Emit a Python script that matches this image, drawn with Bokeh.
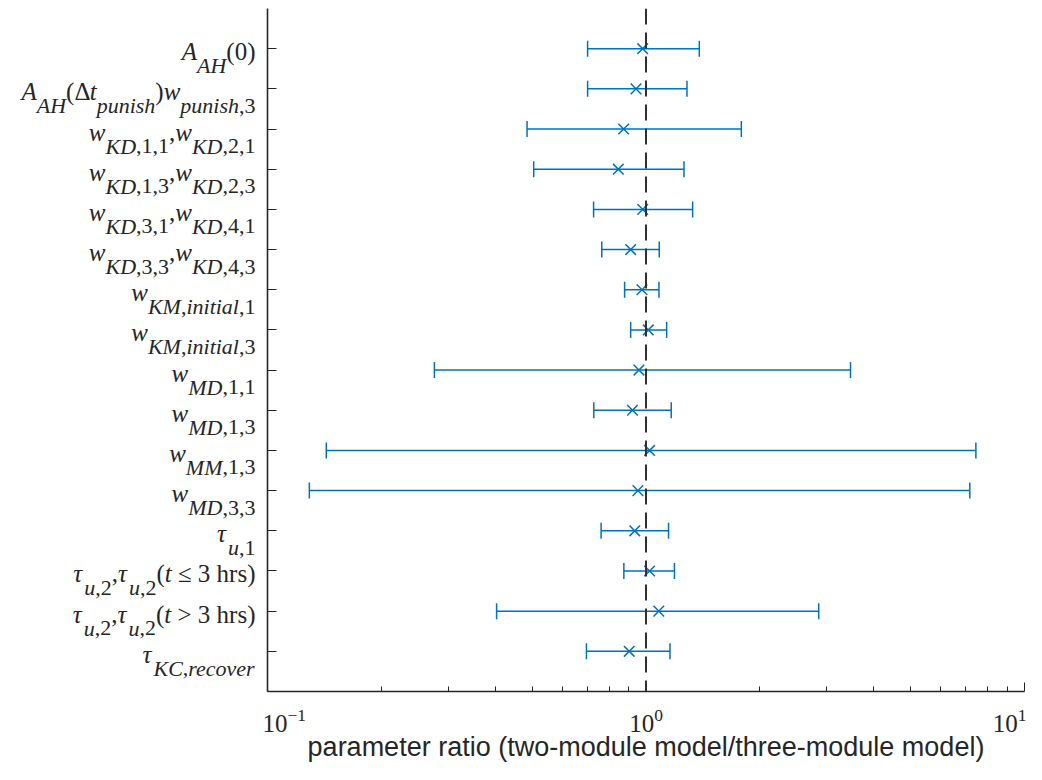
from bokeh.plotting import figure
from bokeh.layouts import row
from bokeh.models import (ColumnDataSource, Range1d, FixedTicker, LogTickFormatter,
                          Whisker, TeeHead, Span)
from bokeh.core.properties import value
from bokeh.embed import file_html
from bokeh.resources import INLINE

# ---------------- data ----------------
labels = [
    "A_{AH}(0)",
    "A_{AH}({\\Delta}t_{punish})w_{punish,3}",
    "w_{KD,1,1},w_{KD,2,1}",
    "w_{KD,1,3},w_{KD,2,3}",
    "w_{KD,3,1},w_{KD,4,1}",
    "w_{KD,3,3},w_{KD,4,3}",
    "w_{KM,initial,1}",
    "w_{KM,initial,3}",
    "w_{MD,1,1}",
    "w_{MD,1,3}",
    "w_{MM,1,3}",
    "w_{MD,3,3}",
    "{\\tau}_{u,1}",
    "{\\tau}_{u,2},{\\tau}_{u,2}(t {\\leq} 3 \\rm{hrs})",
    "{\\tau}_{u,2},{\\tau}_{u,2}(t > 3 \\rm{hrs})",
    "{\\tau}_{KC,recover}",
]
ratio = [0.980, 0.941, 0.873, 0.845, 0.980, 0.911, 0.976, 1.014,
         0.958, 0.921, 1.022, 0.952, 0.934, 1.022, 1.081, 0.903]
lower = [0.701, 0.701, 0.485, 0.505, 0.727, 0.764, 0.878, 0.911,
         0.276, 0.728, 0.143, 0.129, 0.761, 0.874, 0.403, 0.696]
upper = [1.383, 1.283, 1.786, 1.260, 1.328, 1.084, 1.082, 1.134,
         3.470, 1.166, 7.440, 7.170, 1.147, 1.189, 2.860, 1.157]
x_major = [0.1, 1, 10]
x_minor = [0.2, 0.3, 0.4, 0.5, 0.6, 0.7, 0.8, 0.9, 2, 3, 4, 5, 6, 7, 8, 9]
x_label = "parameter ratio (two-module model/three-module model)"

BLUE = "#0072BD"
AXC = "#262626"
MAIN_PX, SUB_PX = 25, 22
H = 764
TOP, BOTTOM = 8, 72
LEFT_W = 262

rows = list(range(1, len(labels) + 1))
src = ColumnDataSource(dict(y=rows, mid=ratio, lo=lower, hi=upper))

yr = Range1d(len(labels) + 1, 0)

p = figure(width=1026 - LEFT_W, height=H, x_axis_type="log",
           x_range=Range1d(x_major[0], x_major[-1]), y_range=yr,
           output_backend="svg", toolbar_location=None,
           min_border_left=5, min_border_right=2, min_border_top=TOP,
           min_border_bottom=BOTTOM)
p.outline_line_color = None
p.grid.visible = False

# error bars
wh = Whisker(source=src, base="y", lower="lo", upper="hi", dimension="width",
             line_color=BLUE, line_width=1.5,
             upper_head=TeeHead(size=16, line_color=BLUE, line_width=1.5),
             lower_head=TeeHead(size=16, line_color=BLUE, line_width=1.5))
p.add_layout(wh)
p.scatter(x="mid", y="y", source=src, marker="x", size=15,
          line_color=BLUE, line_width=1.5)

# reference line at ratio 1
p.add_layout(Span(location=1, dimension="height", line_color="#303030",
                  line_width=2, line_dash="16 8"))

# axes
p.xaxis.ticker = FixedTicker(ticks=x_major, minor_ticks=x_minor)
p.xaxis.formatter = LogTickFormatter()
p.xaxis.major_tick_in = 9
p.xaxis.major_tick_out = 0
p.xaxis.minor_tick_in = 5
p.xaxis.minor_tick_out = 0
p.xaxis.axis_line_width = 1.6
p.xaxis.axis_line_color = AXC
p.xaxis.major_tick_line_color = AXC
p.xaxis.minor_tick_line_color = AXC
p.xaxis.major_label_text_font = "Liberation Serif"
p.xaxis.major_label_text_font_size = "25px"
p.xaxis.major_label_text_color = AXC
p.xaxis.major_label_standoff = 17
p.xaxis.axis_label = x_label
p.xaxis.axis_label_text_font = "Liberation Sans"
p.xaxis.axis_label_text_font_style = "normal"
p.xaxis.axis_label_text_font_size = "27px"
p.xaxis.axis_label_text_color = AXC
p.xaxis.axis_label_standoff = -3

p.yaxis.ticker = FixedTicker(ticks=rows)
p.yaxis.major_tick_in = 9
p.yaxis.major_tick_out = 0
p.yaxis.minor_tick_line_color = None
p.yaxis.axis_line_width = 1.6
p.yaxis.axis_line_color = AXC
p.yaxis.major_tick_line_color = AXC
p.yaxis.major_label_standoff = 0
p.yaxis.major_label_overrides = {r: "" for r in rows}

# ---------------- composed (sub-scripted) row labels ----------------
NBSP = "\u00a0"
W_ROMAN = {",": 250, "(": 333, ")": 333, NBSP: 250, ">": 564, "\u2264": 549,
           "\u0394": 612, "h": 500, "r": 333, "s": 389}
W_ITALIC = {"A": 611, "C": 667, "D": 722, "H": 722, "K": 667, "M": 833,
            "a": 500, "c": 444, "e": 444, "h": 500, "i": 278, "l": 278,
            "n": 500, "o": 500, "p": 500, "r": 389, "s": 389, "t": 278,
            "u": 500, "v": 444, "w": 667, "\u03c4": 440}
CMDS = {"\\Delta": ("\u0394", False), "\\tau": ("\u03c4", True),
        "\\leq": ("\u2264", False)}


def close_brace(s, i):
    depth = 0
    for j in range(i, len(s)):
        if s[j] == "{":
            depth += 1
        elif s[j] == "}":
            depth -= 1
            if depth == 0:
                return j
    return len(s) - 1


def parse(s, sub=False, roman=False):
    out = []
    i = 0
    while i < len(s):
        if s.startswith("_{", i):
            j = close_brace(s, i + 1)
            out += parse(s[i + 2:j], True, roman)
            i = j + 1
        elif s.startswith("\\rm{", i):
            j = close_brace(s, i + 3)
            out += parse(s[i + 4:j], sub, True)
            i = j + 1
        elif s[i] == "\\":
            for k, (ch, it) in CMDS.items():
                if s.startswith(k, i):
                    out.append((ch, sub, it and not roman))
                    i += len(k)
                    break
            else:
                i += 1
        elif s[i] in "{}":
            i += 1
        else:
            c = NBSP if s[i] == " " else s[i]
            out.append((c, sub, c.isalpha() and not roman))
            i += 1
    return out


def char_w(c, sub, it):
    t = W_ITALIC if it else W_ROMAN
    return t.get(c, 500) * (SUB_PX if sub else MAIN_PX) / 1000.0


GAP = 7
sets = {k: dict(x=[], y=[], text=[], xo=[]) for k in
        [(False, True), (False, False), (True, True), (True, False)]}
for r, lab in zip(rows, labels):
    runs = []
    for c, sb, it in parse(lab):
        if runs and runs[-1][1] == sb and runs[-1][2] == it:
            runs[-1][0] += c
        else:
            runs.append([c, sb, it])
    widths = [sum(char_w(c, sb, it) for c in t) for t, sb, it in runs]
    pos = -GAP - sum(widths)
    for (t, sb, it), w in zip(runs, widths):
        d = sets[(sb, it)]
        d["x"].append(1.0)
        d["y"].append(r)
        d["text"].append(t)
        d["xo"].append(pos)
        pos += w

lp = figure(width=LEFT_W, height=H, x_range=Range1d(0, 1), y_range=yr,
            x_axis_location=None, y_axis_location=None,
            output_backend="svg", toolbar_location=None,
            min_border_left=0, min_border_right=0, min_border_top=TOP,
            min_border_bottom=BOTTOM)
lp.outline_line_color = None
lp.grid.visible = False

for (sb, it), d in sets.items():
    if not d["text"]:
        continue
    lp.text(x="x", y="y", text="text", source=ColumnDataSource(d),
            x_offset="xo", y_offset=(17 if sb else 3),
            text_font=value("Liberation Serif"),
            text_font_style=("italic" if it else "normal"),
            text_font_size=(f"{SUB_PX}px" if sb else f"{MAIN_PX}px"),
            text_color=AXC, text_align="left", text_baseline="alphabetic")

layout = row(lp, p, spacing=0)
open("out.html", "w").write(file_html(layout, INLINE))
